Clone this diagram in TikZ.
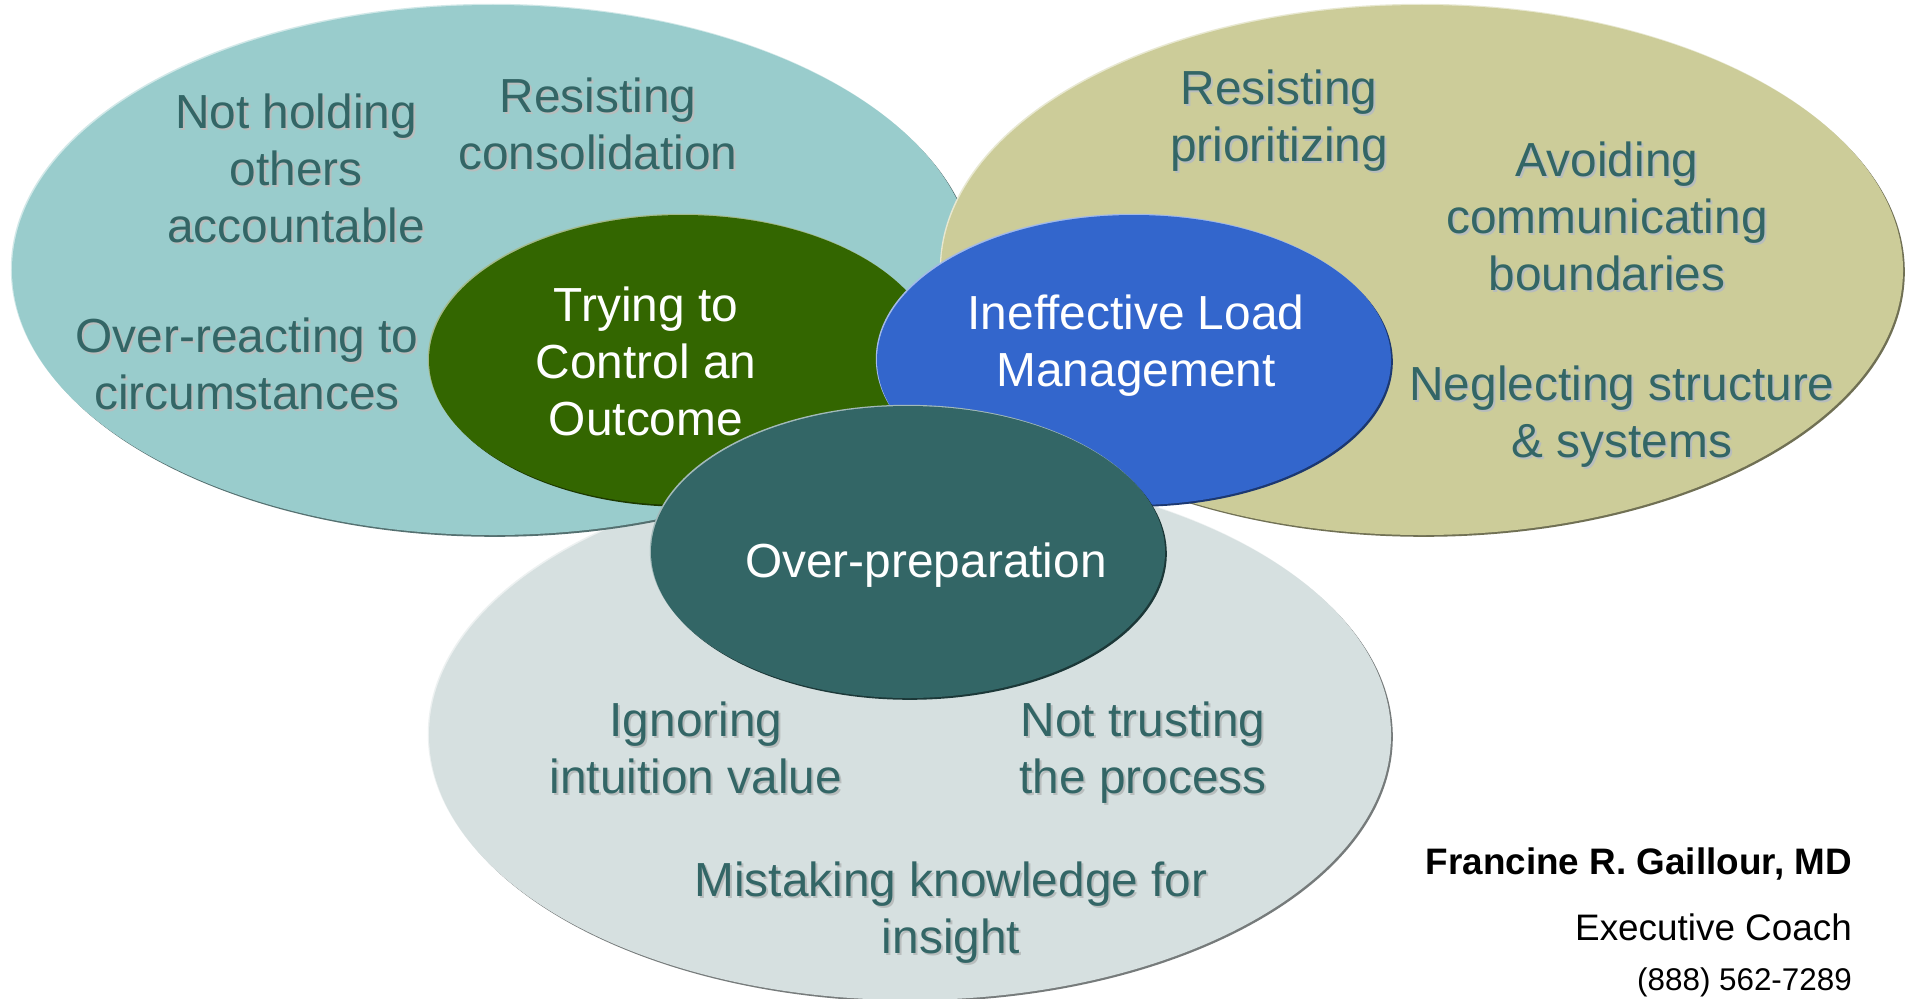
\documentclass[tikz,border=0pt]{standalone}
\usepackage{fontspec}
\setmainfont{Liberation Sans}
\usetikzlibrary{shapes.geometric}
\definecolor{tealbg}{HTML}{99CCCC}
\definecolor{khakibg}{HTML}{CCCC99}
\definecolor{greybg}{HTML}{D6E0E0}
\definecolor{greenc}{HTML}{336600}
\definecolor{bluec}{HTML}{3366CC}
\definecolor{darktealc}{HTML}{336666}
\definecolor{txtc}{HTML}{336666}
\definecolor{shadowc}{HTML}{B8BDBD}
\newcommand\shd[1]{\leavevmode\rlap{\kern2bp\raisebox{-2bp}{\color{shadowc}\begin{tabular}{@{}c@{}}#1\end{tabular}}}\begin{tabular}{@{}c@{}}#1\end{tabular}}
\newcommand\plain[1]{\begin{tabular}{@{}c@{}}#1\end{tabular}}
\tikzset{
  bevel/.style n args={3}{ellipse, inner sep=0pt, outer sep=0pt,
    minimum width=#1, minimum height=#2, fill=#3,
    preaction={fill=#3!55!black, transform canvas={shift={(1.8bp,-1.8bp)}}},
    preaction={fill=#3!45!white, transform canvas={shift={(-1.2bp,1.2bp)}}}},
  lbl/.style={text=txtc, inner sep=0pt, font=\fontsize{48}{57}\selectfont},
  wlbl/.style={text=white, inner sep=0pt, font=\fontsize{48}{57}\selectfont},
  sig/.style={text=black, inner sep=0pt, anchor=base east},
}
\begin{document}
\begin{tikzpicture}[x=1bp,y=-1bp]
\useasboundingbox (0,0) rectangle (1909,998);
\fill[white] (0,0) rectangle (1909,998);
% big ellipses
\node[bevel={962bp}{530bp}{greybg}] (grey) at (910,735) {};
\node[bevel={962bp}{530bp}{tealbg}] (teal) at (493,270) {};
\node[bevel={962bp}{530bp}{khakibg}] (khaki) at (1422,270) {};
% inner ellipses
\node[bevel={508bp}{290bp}{greenc}] (green) at (683,360) {};
\node[bevel={514bp}{290bp}{bluec}] (blue) at (1134,360) {};
\node[bevel={514bp}{292bp}{darktealc}] (dteal) at (908,552) {};
% labels in teal
\node[lbl] (t1) at (296,175) {\shd{Not holding\\others\\accountable}};
\node[lbl] (t2) at (598,131) {\shd{Resisting\\consolidation}};
\node[lbl] (t3) at (247,371) {\shd{Over-reacting to\\circumstances}};
% labels in khaki
\node[lbl] (k1) at (1279,123) {\shd{Resisting\\prioritizing}};
\node[lbl] (k2) at (1607,223) {\shd{Avoiding\\communicating\\boundaries}};
\node[lbl] (k3) at (1622,419) {\shd{Neglecting structure\\\& systems}};
% labels in grey
\node[lbl] (g1) at (696,755) {\shd{Ignoring\\intuition value}};
\node[lbl] (g2) at (1143,755) {\shd{Not trusting\\the process}};
\node[lbl] (g3) at (951,915) {\shd{Mistaking knowledge for\\insight}};
% inner labels
\node[wlbl] (c1) at (646,367) {\plain{Trying to\\Control an\\Outcome}};
\node[wlbl] (c2) at (1136,347) {\plain{Ineffective Load\\Management}};
\node[wlbl] (c3) at (926,566) {\plain{Over-preparation}};
% signature
\node[sig, font=\bfseries\fontsize{37}{44}\selectfont] (s1) at (1852,874) {Francine R. Gaillour, MD};
\node[sig, font=\fontsize{37}{44}\selectfont] (s2) at (1852,940) {Executive Coach};
\node[sig, font=\fontsize{31.5}{38}\selectfont] (s3) at (1852,990) {(888) 562-7289};
\end{tikzpicture}
\end{document}
